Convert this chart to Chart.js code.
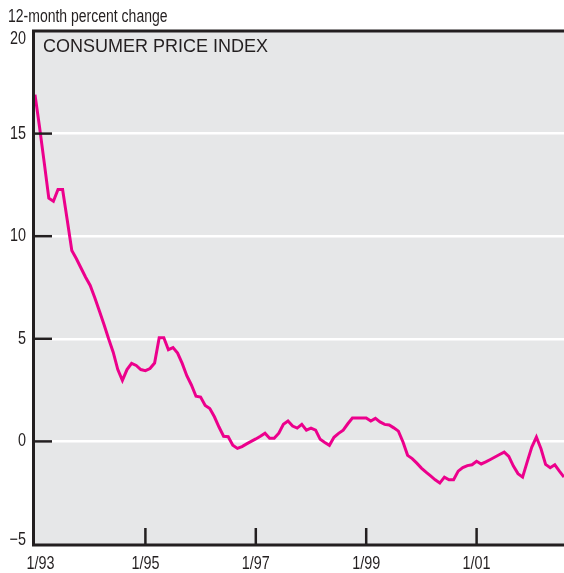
<!DOCTYPE html>
<html lang="en">
<head>
  <meta charset="UTF-8" />
  <title>Consumer Price Index</title>
  <script src="https://cdn.jsdelivr.net/npm/chart.js"></script>
  <style>
    html, body {
      margin: 0;
      padding: 0;
      background: #ffffff;
    }

    .chart-container {
      position: relative;
      width: 564px;
      height: 573px;
    }
  </style>
</head>
<body>
  <div class="chart-container">
    <canvas id="cpiChart"></canvas>
  </div>

  <script>
    // Données - variation sur 12 mois, mensuel de 1/93 à 8/02
    const startYear = 1993;
    const cpiChange = [
      16.9, 15.3, 13.6, 11.85, 11.7, 12.28, 12.28, 10.8, 9.3, 8.9, 8.45, 8.0,
      7.6, 7.0, 6.35, 5.7, 5.0, 4.35, 3.5, 2.97, 3.5, 3.8, 3.7, 3.5,
      3.45, 3.55, 3.82, 5.05, 5.05, 4.47, 4.57, 4.3, 3.8, 3.2, 2.75, 2.2,
      2.16, 1.75, 1.6, 1.2, 0.7, 0.25, 0.23, -0.19, -0.34, -0.25, -0.12, 0.0,
      0.12, 0.25, 0.4, 0.15, 0.15, 0.4, 0.83, 0.99, 0.75, 0.65, 0.83, 0.55,
      0.65, 0.55, 0.1, -0.05, -0.19, 0.2, 0.39, 0.55, 0.86, 1.14, 1.14, 1.14,
      1.14, 0.99, 1.12, 0.95, 0.83, 0.8, 0.66, 0.5, -0.03, -0.68, -0.84, -1.06,
      -1.3, -1.5, -1.68, -1.87, -2.03, -1.74, -1.87, -1.87, -1.45, -1.28, -1.18, -1.14,
      -0.97, -1.1, -1.0, -0.88, -0.76, -0.64, -0.52, -0.73, -1.2, -1.57, -1.74, -1.0,
      -0.28, 0.21, -0.36, -1.12, -1.28, -1.14, -1.45, -1.74
    ];
    const shownTicks = ['1/93', '1/95', '1/97', '1/99', '1/01'];
    const yTicks = [-5, 0, 5, 10, 15, 20];

    const months = cpiChange.map((v, i) => {
      const y = startYear + Math.floor(i / 12);
      return (i % 12 + 1) + '/' + String(y % 100).padStart(2, '0');
    });

    const INK = '#231f20';
    const FONT = '"Liberation Sans", Arial, sans-serif';

    // texte condensé (police étroite simulée)
    function narrowText(ctx, txt, x, y, align) {
      ctx.save();
      ctx.translate(x, y);
      ctx.scale(0.8, 1);
      ctx.textAlign = align;
      ctx.fillText(txt, 0, 0);
      ctx.restore();
    }

    // fond gris, bordures, graduations intérieures, textes
    const decor = {
      id: 'decor',
      beforeDraw(chart) {
        const { ctx, chartArea: a } = chart;
        ctx.save();
        ctx.fillStyle = '#e6e7e8';
        ctx.fillRect(a.left, a.top, a.right - a.left, a.bottom - a.top);
        ctx.restore();
      },
      afterDraw(chart) {
        const { ctx, chartArea: a } = chart;
        const xs = chart.scales.x, ys = chart.scales.y;
        ctx.save();
        ctx.strokeStyle = INK;

        // bordures
        ctx.lineWidth = 3;
        ctx.beginPath();
        ctx.moveTo(a.right, a.top);
        ctx.lineTo(a.left - 1.5, a.top);
        ctx.lineTo(a.left - 1.5, a.bottom + 1);
        ctx.lineTo(a.right, a.bottom + 1);
        ctx.stroke();

        // graduations
        ctx.lineWidth = 2.5;
        yTicks.forEach(v => {
          if (v <= -5 || v >= 20) return;
          const py = ys.getPixelForValue(v);
          ctx.beginPath();
          ctx.moveTo(a.left, py);
          ctx.lineTo(a.left + 17, py);
          ctx.stroke();
        });
        shownTicks.forEach((t, i) => {
          if (i === 0) return;
          const px = xs.getPixelForValue(months.indexOf(t));
          ctx.beginPath();
          ctx.moveTo(px, a.bottom);
          ctx.lineTo(px, a.bottom - 16);
          ctx.stroke();
        });

        // étiquettes
        ctx.fillStyle = INK;
        ctx.font = '18px ' + FONT;
        ctx.textBaseline = 'middle';
        yTicks.forEach(v => {
          let py = ys.getPixelForValue(v);
          py = Math.min(Math.max(py, a.top + 8), a.bottom - 4);
          const txt = v < 0 ? '\u2212' + Math.abs(v) : String(v);
          narrowText(ctx, txt, 26, py, 'right');
        });
        shownTicks.forEach(t => {
          const px = xs.getPixelForValue(months.indexOf(t));
          narrowText(ctx, t, Math.max(px, 40.5), 564, 'center');
        });

        ctx.font = '17.5px ' + FONT;
        narrowText(ctx, '12-month percent change', 8, 17, 'left');
        ctx.font = '18px ' + FONT;
        ctx.textAlign = 'left';
        ctx.fillText('CONSUMER PRICE INDEX', 43, 47);
        ctx.restore();
      }
    };

    const cpiCtx = document.getElementById('cpiChart').getContext('2d');
    new Chart(cpiCtx, {
      type: 'line',
      data: {
        labels: months,
        datasets: [{
          label: 'Consumer price index',
          data: cpiChange,
          borderColor: '#ec008c',
          borderWidth: 3,
          pointRadius: 0,
          tension: 0,
          fill: false
        }]
      },
      options: {
        responsive: true,
        maintainAspectRatio: false,
        animation: false,
        layout: {
          padding: { top: 31, right: 0, bottom: 0, left: 0 }
        },
        plugins: {
          legend: { display: false },
          tooltip: { enabled: false }
        },
        scales: {
          x: {
            type: 'category',
            offset: false,
            grid: { display: false },
            border: { display: false },
            ticks: { display: false },
            afterFit: s => { s.height = 29; }
          },
          y: {
            min: -5,
            max: 20,
            ticks: { display: false, stepSize: 5 },
            border: { display: false },
            grid: {
              drawTicks: false,
              lineWidth: 2.5,
              color: c => (c.tick && c.tick.value > -5 && c.tick.value < 20) ? '#ffffff' : 'rgba(0,0,0,0)'
            },
            afterFit: s => { s.width = 35; }
          }
        }
      },
      plugins: [decor]
    });
  </script>
</body>
</html>
